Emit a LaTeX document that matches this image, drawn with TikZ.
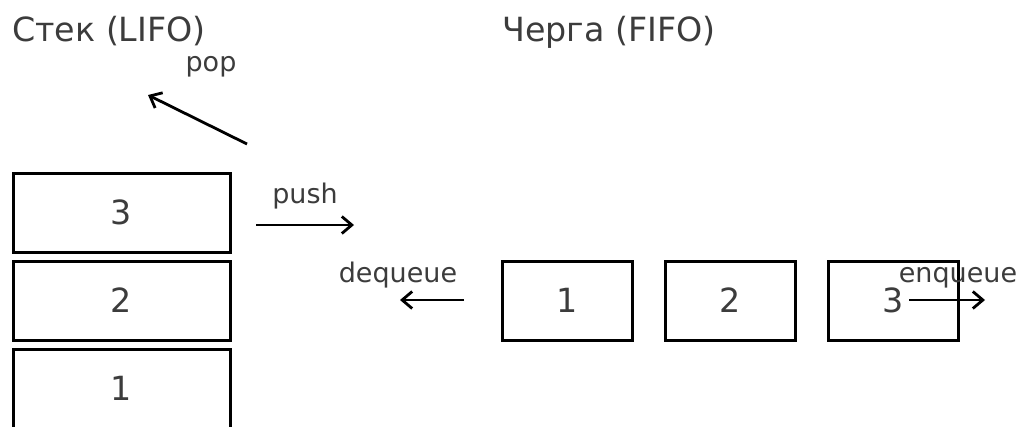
\documentclass[tikz,border=0pt]{standalone}
\usepackage{fontspec}
\setmainfont{DejaVu Sans}
\usetikzlibrary{arrows.meta}
\definecolor{txt}{RGB}{60,60,60}
\begin{document}
\begin{tikzpicture}[x=1pt,y=-1pt,
  sbox/.style={draw=black,line width=3pt,text=txt,inner sep=0pt,
    minimum width=217pt,minimum height=79pt,font=\fontsize{33.3}{40}\selectfont},
  qbox/.style={sbox,minimum width=130pt},
  ttl/.style={text=txt,inner sep=0pt,anchor=base west,font=\fontsize{33.3}{40}\selectfont},
  lbl/.style={text=txt,inner sep=0pt,anchor=base,font=\fontsize{27}{32}\selectfont},
  arr/.style={draw=black,line width=2.8pt,-{Straight Barb[length=10pt,width=17pt,line width=2.8pt]}}]
\useasboundingbox (0,0) rectangle (1028,426);
% titles
\node[ttl] (t1) at (12,41) {Стек (LIFO)};
\node[ttl] (t2) at (502,41) {Черга (FIFO)};
% stack
\node[sbox] (s3) at (121.5,212.5) {3};
\node[sbox] (s2) at (121.5,300.5) {2};
\node[sbox] (s1) at (121.5,388.5) {1};
% queue
\node[qbox] (q1) at (567,300.5) {1};
\node[qbox] (q2) at (730,300.5) {2};
\node[qbox] (q3) at (893,300.5) {3};
% labels
\node[lbl] (lpop) at (211,71) {pop};
\node[lbl] (lpush) at (305,203) {push};
\node[lbl] (ldeq) at (398,282) {dequeue};
\node[lbl] (lenq) at (958,282) {enqueue};
% arrow endpoints
\coordinate (popS) at (247,144);
\coordinate (popE) at (148,95);
\coordinate (pushS) at (256,225);
\coordinate (pushE) at (354,225);
\coordinate (deqS) at (464,300);
\coordinate (deqE) at (400,300);
\coordinate (enqS) at (909,300);
\coordinate (enqE) at (985,300);
\draw[arr] (popS) -- (popE);
\draw[arr] (pushS) -- (pushE);
\draw[arr] (deqS) -- (deqE);
\draw[arr] (enqS) -- (enqE);
\end{tikzpicture}
\end{document}
